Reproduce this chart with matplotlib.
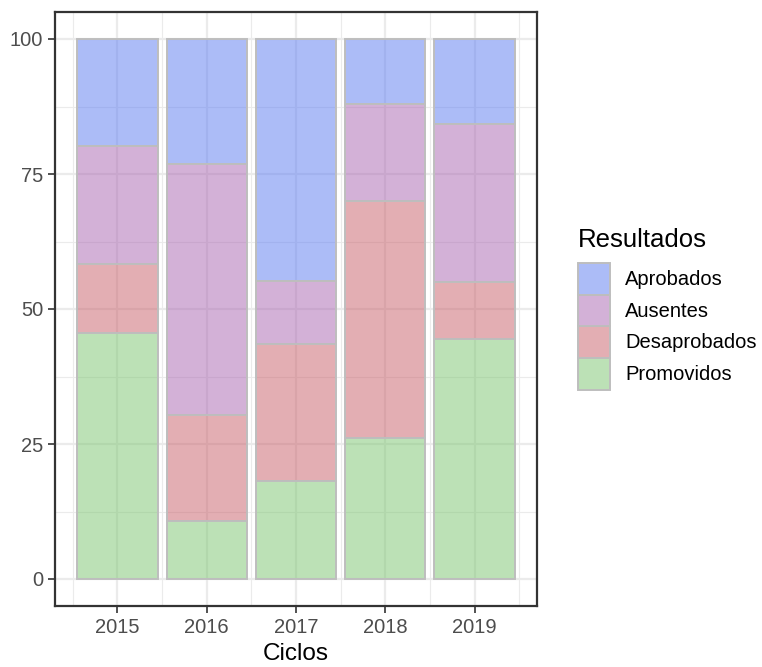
import matplotlib
matplotlib.use("Agg")
import matplotlib.pyplot as plt
from matplotlib.patches import Patch
import numpy as np

plt.rcParams['font.family'] = ['Liberation Sans', 'DejaVu Sans']

ciclos = [2015, 2016, 2017, 2018, 2019]
resultados = ["Promovidos", "Desaprobados", "Ausentes", "Aprobados"]
promovidos = [45.6, 10.7, 18.1, 26.1, 44.4]
desaprobados = [12.7, 19.7, 25.4, 43.9, 10.6]
ausentes = [21.9, 46.5, 11.7, 18.0, 29.3]
aprobados = [19.8, 23.1, 44.8, 12.0, 15.7]
series = [promovidos, desaprobados, ausentes, aprobados]
colores = {"Aprobados": "#5B7BF1", "Ausentes": "#A965B1",
           "Desaprobados": "#C95F69", "Promovidos": "#7BC56F"}
ALPHA = 0.5
EDGE = "#BEBEBE"
W, H = 762, 667

fig = plt.figure(figsize=(W/100, H/100), dpi=100)
ax = fig.add_axes([55/W, 1-606/H, (537-55)/W, (606-12)/H])

x = np.arange(1, len(ciclos) + 1)
bottom = np.zeros(len(ciclos))
for name, vals in zip(resultados, series):
    fc = matplotlib.colors.to_rgba(colores[name], ALPHA)
    ax.bar(x, vals, width=0.9, bottom=bottom, facecolor=fc,
           edgecolor=EDGE, linewidth=1.4, zorder=3)
    bottom += np.array(vals)

ax.set_xlim(0.3, 5.7)
ax.set_ylim(-5, 105)
ax.set_xticks(x)
ax.set_xticklabels([str(c) for c in ciclos])
ax.set_xticks(np.arange(0.5, 6.0, 1.0), minor=True)
ax.set_yticks([0, 25, 50, 75, 100])
ax.set_yticks([12.5, 37.5, 62.5, 87.5], minor=True)
ax.grid(True, which='major', color='#EBEBEB', linewidth=1.6, zorder=0)
ax.grid(True, which='minor', color='#EBEBEB', linewidth=0.8, zorder=0)
ax.set_axisbelow(True)
ax.tick_params(which='major', length=5, width=1.2, color='#333333',
               labelcolor='#4D4D4D', labelsize=14.5, pad=3.5)
ax.tick_params(which='minor', length=0)
for s in ax.spines.values():
    s.set_color('#333333')
    s.set_linewidth(1.6)
ax.set_xlabel("Ciclos", fontsize=17.5, color='black')
ax.xaxis.label.set_va('baseline')
ax.xaxis.set_label_coords(0.5, -(660-606)/(606-12))

handles = [Patch(facecolor=matplotlib.colors.to_rgba(colores[n], ALPHA),
                 edgecolor=EDGE, linewidth=1.4, label=n)
           for n in ["Aprobados", "Ausentes", "Desaprobados", "Promovidos"]]
fig.text(578/W, 1-247/H, "Resultados", fontsize=18.5, color='black',
         ha='left', va='baseline')
leg = fig.legend(handles=handles, loc='upper left',
                 bbox_to_anchor=(578/W, 1-263/H), frameon=False,
                 fontsize=14.5, handlelength=1.59, handleheight=2.04,
                 labelspacing=0.0, handletextpad=0.75, borderpad=0,
                 borderaxespad=0)

fig.savefig("out.png", dpi=100)
